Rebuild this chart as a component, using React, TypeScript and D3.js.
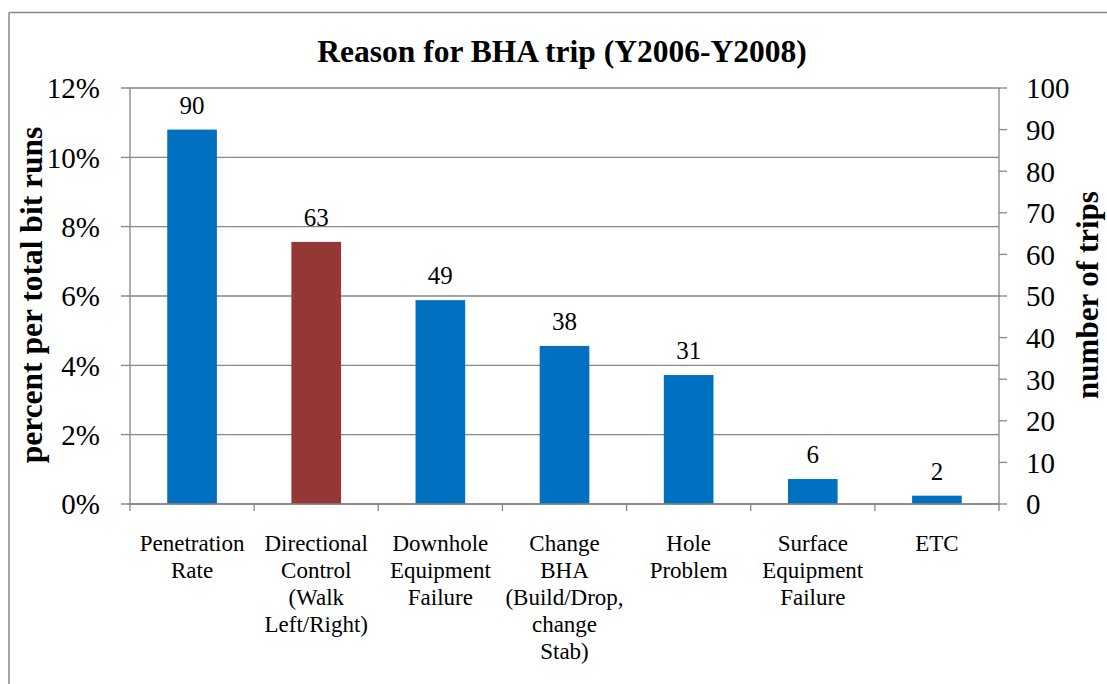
import React from "react";
import * as d3 from "d3";

const categories: string[][] = [
  ["Penetration", "Rate"],
  ["Directional", "Control", "(Walk", "Left/Right)"],
  ["Downhole", "Equipment", "Failure"],
  ["Change", "BHA", "(Build/Drop,", "change", "Stab)"],
  ["Hole", "Problem"],
  ["Surface", "Equipment", "Failure"],
  ["ETC"],
];
const trips: number[] = [90, 63, 49, 38, 31, 6, 2];
const barColors: string[] = ["#0070C0", "#953735", "#0070C0", "#0070C0", "#0070C0", "#0070C0", "#0070C0"];
const percentTicks: number[] = [0, 0.02, 0.04, 0.06, 0.08, 0.1, 0.12];
const tripTicks: number[] = [0, 10, 20, 30, 40, 50, 60, 70, 80, 90, 100];
const title = "Reason for BHA trip (Y2006-Y2008)";
const leftTitle = "percent per total bit runs";
const rightTitle = "number of trips";

const W = 1107;
const H = 684;
const left = 130;
const right = 999;
const top = 88;
const bottom = 504;
const font = "'Liberation Serif', 'Times New Roman', serif";
const grey = "#868686";

export default function App() {
  const x = d3
    .scaleBand<number>()
    .domain(categories.map((_, i) => i))
    .range([left, right])
    .paddingInner(0.6)
    .paddingOuter(0.3);
  const step = x.step();
  const yPct = d3.scaleLinear().domain([0, 0.12]).range([bottom, top]);
  const yTrips = d3.scaleLinear().domain([0, 100]).range([bottom, top]);
  const pctFmt = d3.format(".0%");

  return (
    <svg
      width={W}
      height={H}
      style={{ position: "absolute", left: 0, top: 0, background: "#fff" }}
      fontFamily={font}
    >
      {/* outer frame */}
      <line x1={9} y1={12.5} x2={W} y2={12.5} stroke={grey} strokeWidth={1.5} />
      <line x1={9} y1={12.5} x2={9} y2={H} stroke={grey} strokeWidth={1.5} />

      {/* title */}
      <text x={562} y={62} textAnchor="middle" fontSize={31.5} fontWeight="bold" fill="#000">
        {title}
      </text>

      {/* gridlines + left ticks */}
      {percentTicks.map((t) => (
        <g key={"p" + t}>
          <line x1={left - 9} x2={right} y1={yPct(t)} y2={yPct(t)} stroke={grey} strokeWidth={1.3} />
          <text
            x={100}
            y={yPct(t)}
            dy="0.36em"
            textAnchor="end"
            fontSize={29}
            fill="#000"
          >
            {pctFmt(t)}
          </text>
        </g>
      ))}

      {/* left axis line */}
      <line x1={left} x2={left} y1={top} y2={bottom} stroke={grey} strokeWidth={1.3} />
      {/* right axis */}
      <line x1={right} x2={right} y1={top} y2={bottom} stroke={grey} strokeWidth={1.3} />
      {tripTicks.map((t) => (
        <g key={"t" + t}>
          <line x1={right} x2={right + 8} y1={yTrips(t)} y2={yTrips(t)} stroke={grey} strokeWidth={1.3} />
          <text x={1026} y={yTrips(t)} dy="0.36em" textAnchor="start" fontSize={29} fill="#000">
            {t}
          </text>
        </g>
      ))}

      {/* bars */}
      {trips.map((v, i) => (
        <g key={"b" + i}>
          <rect
            x={x(i)}
            y={yTrips(v)}
            width={x.bandwidth()}
            height={bottom - yTrips(v)}
            fill={barColors[i]}
          />
          <text
            x={(x(i) as number) + x.bandwidth() / 2}
            y={yTrips(v) - 16}
            textAnchor="middle"
            fontSize={25}
            fill="#000"
          >
            {v}
          </text>
        </g>
      ))}

      {/* bottom axis */}
      <line x1={left} x2={right} y1={bottom} y2={bottom} stroke={grey} strokeWidth={1.3} />
      {d3.range(categories.length + 1).map((i) => (
        <line
          key={"ct" + i}
          x1={left + i * step}
          x2={left + i * step}
          y1={bottom}
          y2={bottom + 7}
          stroke={grey}
          strokeWidth={1.3}
        />
      ))}

      {/* category labels */}
      {categories.map((lines, i) => (
        <text
          key={"c" + i}
          x={(x(i) as number) + x.bandwidth() / 2}
          y={551}
          textAnchor="middle"
          fontSize={23}
          fill="#000"
        >
          {lines.map((l, j) => (
            <tspan key={j} x={(x(i) as number) + x.bandwidth() / 2} dy={j === 0 ? 0 : 27}>
              {l}
            </tspan>
          ))}
        </text>
      ))}

      {/* axis titles */}
      <text
        transform={`translate(42, 295) rotate(-90)`}
        textAnchor="middle"
        fontSize={31.5}
        fontWeight="bold"
        fill="#000"
      >
        {leftTitle}
      </text>
      <text
        transform={`translate(1098, 295) rotate(-90)`}
        textAnchor="middle"
        fontSize={31}
        fontWeight="bold"
        fill="#000"
      >
        {rightTitle}
      </text>
    </svg>
  );
}
